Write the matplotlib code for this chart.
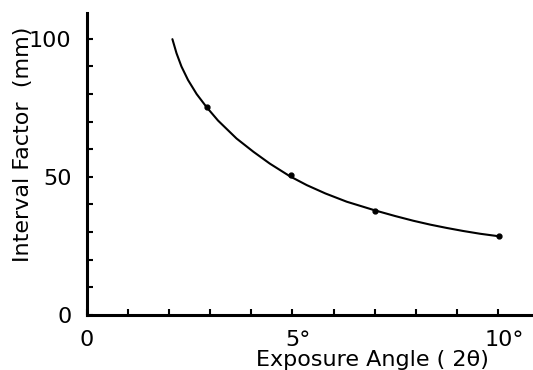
import matplotlib.pyplot as plt
import matplotlib.transforms as mtransforms

# Data
angle_pts = [2.91, 4.96, 7.01, 10.02]
factor_pts = [75.3, 50.6, 37.8, 28.6]

# smooth curve
curve_x = [2.08, 2.18, 2.30, 2.46, 2.67, 2.91, 3.19, 3.64, 4.05, 4.45,
           4.94, 5.35, 5.80, 6.32, 7.02, 7.50, 7.94, 8.35, 8.75, 9.15,
           9.56, 10.01]
curve_y = [99.9, 94.8, 90.0, 85.1, 80.0, 75.3, 70.4, 63.9, 59.1, 54.8,
           50.2, 47.0, 44.0, 41.0, 37.8, 35.8, 34.1, 32.7, 31.5, 30.4,
           29.4, 28.5]

x_ticks = [0, 5, 10]
x_labels = ["0", "5°", "10°"]
y_ticks = [0, 50, 100]
y_labels = ["0", "50", "100"]

fig = plt.figure(figsize=(5.33, 3.70), dpi=100)
ax = fig.add_axes([0.163, 0.149, 0.837, 0.816])

ax.plot(curve_x, curve_y, color="black", lw=1.5,
        solid_capstyle="round", solid_joinstyle="round")
ax.plot(angle_pts, factor_pts, "o", color="black", ms=3.5)

ax.set_xlim(0, 10.85)
ax.set_ylim(0, 109.4)

ax.spines["top"].set_visible(False)
ax.spines["right"].set_visible(False)
ax.spines["left"].set_linewidth(2.2)
ax.spines["bottom"].set_linewidth(2.2)

ax.set_xticks(x_ticks, x_labels)
ax.set_yticks(y_ticks, y_labels)
ax.set_xticks(range(0, 11), minor=True)
ax.set_yticks(range(0, 101, 10), minor=True)
ax.tick_params(which="both", direction="in", width=1.5, length=4, labelsize=16)
ax.tick_params(axis="x", pad=11)
ax.tick_params(axis="y", pad=11)

# degree labels hang a little to the right of their tick
shift = mtransforms.ScaledTranslation(6 / 100, 0, fig.dpi_scale_trans)
for lab in ax.get_xticklabels()[1:]:
    lab.set_transform(lab.get_transform() + shift)

fig.text(0.698, 0.028, "Exposure Angle ( 2θ)", ha="center", va="center", fontsize=16)
fig.text(0.043, 0.61, "Interval Factor  (mm)", ha="center", va="center",
         rotation=90, fontsize=16)

plt.savefig("out.png", dpi=100)
